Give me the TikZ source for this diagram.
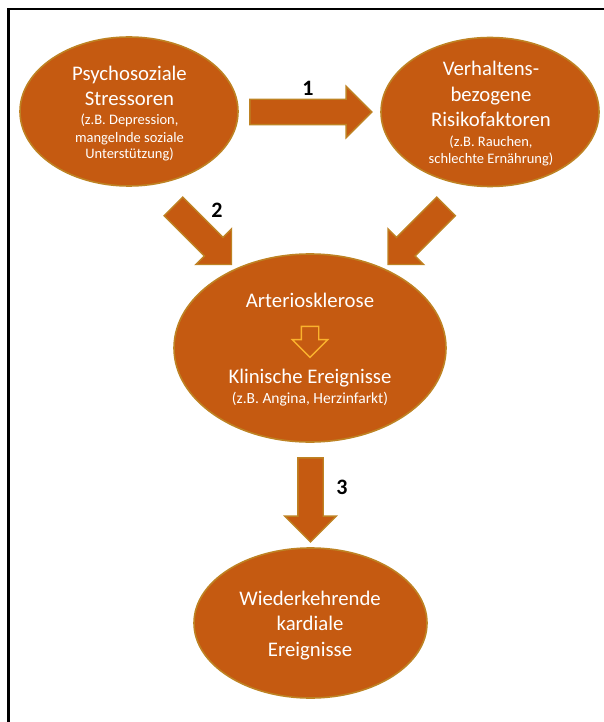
\documentclass[tikz,border=0pt]{standalone}
\usepackage{fontspec}
\setmainfont{Carlito}
\usepackage{tikz}
\usetikzlibrary{shapes.geometric,shapes.arrows}

\definecolor{blobfill}{RGB}{197,90,17}
\definecolor{blobedge}{RGB}{190,130,35}
\definecolor{innerline}{RGB}{250,178,45}

\begin{document}
\begin{tikzpicture}[
x=1pt, y=-1pt,
blob/.style={ellipse, fill=blobfill, draw=blobedge, line width=1.6pt, inner sep=0pt},
bigtxt/.style={text=white, align=center, anchor=base, font=\fontsize{20.75}{25.5}\selectfont},
smalltxt/.style={text=white, align=center, anchor=base, font=\fontsize{14.5}{17}\selectfont},
blockarrow/.style={single arrow, fill=blobfill, draw=blobedge, line width=1.4pt, inner xsep=0pt, inner ysep=12pt, single arrow head extend=13pt},
num/.style={font=\fontsize{22}{22}\bfseries\selectfont, inner sep=0pt} ]

\useasboundingbox (0,0) rectangle (604,722);

\draw[line width=2.4pt] (604,9) -- (8.5,9) -- (8.5,722);

\node[blob, minimum width=218pt, minimum height=149pt](psycho) at (129,111.5) {};

\node[blob, minimum width=218pt, minimum height=149pt](verhalten) at (490,112) {};

\node[blob, minimum width=272pt, minimum height=188pt](arterio) at (310,348) {};

\node[blob, minimum width=233pt, minimum height=150pt](wieder) at (310.5,623) {};

\node[bigtxt](psychoT) at (129.5,106) {Psychosoziale\\Stressoren};

\node[smalltxt](psychoS) at (129.5,159) {(z.B. Depression,\\mangelnde soziale\\Unterstützung)};

\node[bigtxt](verhaltenT) at (491,127) {Verhaltens-\\bezogene\\Risikofaktoren};

\node[smalltxt](verhaltenS) at (491,164) {(z.B. Rauchen,\\schlechte Ernährung)};

\node[bigtxt](arterioT) at (310,307) {Arteriosklerose};

\node[bigtxt](klinikT) at (310,383) {Klinische Ereignisse};

\node[smalltxt, font=\fontsize{15.5}{18}\selectfont](klinikS) at (310,403) {(z.B. Angina, Herzinfarkt)};

\node[bigtxt](wiederT) at (310,656) {Wiederkehrende\\kardiale\\Ereignisse};

\node[single arrow, draw=innerline, line width=1.4pt, inner xsep=0pt, inner ysep=8pt, minimum height=31pt, single arrow head extend=9pt, rotate=-90](inner) at (310,337.5) {};

\node[blockarrow, minimum height=122pt](pfeil1) at (304.5,112) {};

\node[blockarrow, minimum height=82pt, inner ysep=12.5pt, single arrow head extend=12pt, rotate=-45](pfeil2) at (197.8,230.8) {};

\node[blockarrow, minimum height=82pt, inner ysep=12.5pt, single arrow head extend=12pt, rotate=-135](pfeilR) at (421.7,230.8) {};

\node[blockarrow, minimum height=84pt, rotate=-90](pfeil3) at (310.5,493.5) {};

\node[num](lab1) at (308,88.5) {1};

\node[num](lab2) at (217,210) {2};

\node[num](lab3) at (342,487) {3};
\end{tikzpicture}
\end{document}
